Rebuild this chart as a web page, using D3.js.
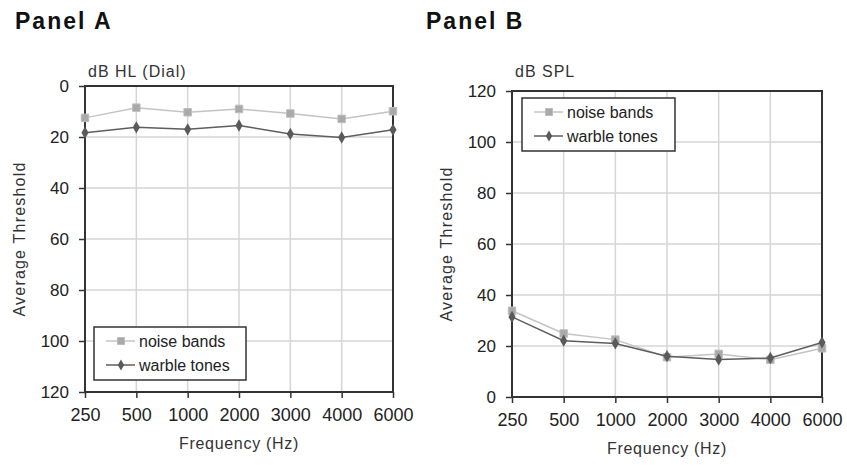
<!DOCTYPE html>
<html>
<head>
<meta charset="utf-8">
<script src="https://cdn.jsdelivr.net/npm/d3@7"></script>
<style>
  body { margin: 0; background: #fff; }
  svg { font-family: "Liberation Sans", Arial, sans-serif; }
</style>
</head>
<body>
<script>
const width = 847;
const height = 466;

const frequencies = ['250', '500', '1000', '2000', '3000', '4000', '6000'];
const seriesNames = ['noise bands', 'warble tones'];

// Panel A, dB HL (Dial)
const noiseA = [12.5, 8.5, 10.3, 9.0, 10.8, 12.9, 9.9];
const warbleA = [18.3, 16.2, 17.0, 15.5, 18.8, 20.2, 17.2];
// Panel B, dB SPL
const noiseB = [33.8, 24.9, 22.5, 15.6, 16.9, 14.6, 19.1];
const warbleB = [31.4, 22.1, 21.0, 16.0, 14.7, 15.3, 21.4];

const yTicks = [0, 20, 40, 60, 80, 100, 120];

const svg = d3.select('body')
    .append('svg')
    .attr('width', width)
    .attr('height', height);

function drawPanel(opt) {
    const x = d3.scalePoint()
        .domain(frequencies)
        .range([opt.left, opt.right]);

    const y = d3.scaleLinear()
        .domain(opt.inverted ? [0, 120] : [120, 0])
        .range([opt.top, opt.bottom]);

    const g = svg.append('g');

    // panel title
    g.append('text')
        .attr('x', opt.titleX)
        .attr('y', 29)
        .attr('font-size', 23)
        .attr('font-weight', 'bold')
        .attr('letter-spacing', 2)
        .attr('fill', '#111')
        .text(opt.title);

    // unit label
    g.append('text')
        .attr('x', opt.left + 3)
        .attr('y', 77)
        .attr('font-size', 16)
        .attr('letter-spacing', 1)
        .attr('fill', '#333')
        .text(opt.unit);

    // grid
    g.append('g')
        .selectAll('line')
        .data(yTicks)
        .join('line')
        .attr('x1', opt.left)
        .attr('x2', opt.right)
        .attr('y1', d => y(d))
        .attr('y2', d => y(d))
        .attr('stroke', '#d6d6d6')
        .attr('stroke-width', 1.5);

    g.append('g')
        .selectAll('line')
        .data(frequencies)
        .join('line')
        .attr('x1', d => x(d))
        .attr('x2', d => x(d))
        .attr('y1', opt.top)
        .attr('y2', opt.bottom)
        .attr('stroke', '#d6d6d6')
        .attr('stroke-width', 1.5);

    // axes
    const yAxis = g.append('g')
        .attr('transform', `translate(${opt.left},0)`)
        .call(d3.axisLeft(y).tickValues(yTicks).tickSize(6).tickPadding(10));

    const xAxis = g.append('g')
        .attr('transform', `translate(0,${opt.bottom})`)
        .call(d3.axisBottom(x).tickSize(6).tickPadding(10));

    [yAxis, xAxis].forEach(a => {
        a.select('.domain').remove();
        a.selectAll('line').attr('stroke', '#333').attr('stroke-width', 1.5);
        a.selectAll('text')
            .attr('font-size', 17)
            .attr('fill', '#222')
            .attr('font-family', '"Liberation Sans", Arial, sans-serif');
    });
    xAxis.selectAll('text').attr('font-size', 18);

    // frame
    g.append('rect')
        .attr('x', opt.left)
        .attr('y', opt.top)
        .attr('width', opt.right - opt.left)
        .attr('height', opt.bottom - opt.top)
        .attr('fill', 'none')
        .attr('stroke', '#333')
        .attr('stroke-width', 2);

    // axis titles
    g.append('text')
        .attr('transform', `translate(${opt.yLabelX},${(opt.top + opt.bottom) / 2}) rotate(-90)`)
        .attr('text-anchor', 'middle')
        .attr('font-size', 16)
        .attr('letter-spacing', 1.2)
        .attr('fill', '#333')
        .text('Average Threshold');

    g.append('text')
        .attr('x', (opt.left + opt.right) / 2)
        .attr('y', opt.bottom + 57)
        .attr('text-anchor', 'middle')
        .attr('font-size', 16)
        .attr('letter-spacing', 0.7)
        .attr('fill', '#333')
        .text('Frequency (Hz)');

    // series
    const line = d3.line()
        .x((d, i) => x(frequencies[i]))
        .y(d => y(d));

    const series = [
        { name: seriesNames[0], values: opt.noise, stroke: '#c4c4c4', fill: '#a9a9a9', shape: d3.symbolSquare },
        { name: seriesNames[1], values: opt.warble, stroke: '#5e5e5e', fill: '#5a5a5a', shape: d3.symbolDiamond }
    ];

    series.forEach(s => {
        g.append('path')
            .datum(s.values)
            .attr('d', line)
            .attr('fill', 'none')
            .attr('stroke', s.stroke)
            .attr('stroke-width', 1.5);

        g.append('g')
            .selectAll('path')
            .data(s.values)
            .join('path')
            .attr('transform', (d, i) => `translate(${x(frequencies[i])},${y(d)})`)
            .attr('d', d3.symbol().type(s.shape).size(s.shape === d3.symbolSquare ? 56 : 44))
            .attr('fill', s.fill)
            .attr('stroke', s.shape === d3.symbolSquare ? '#bdbdbd' : 'none')
            .attr('stroke-width', 1);
    });

    // legend
    const leg = g.append('g')
        .attr('transform', `translate(${opt.legX},${opt.legY})`);

    leg.append('rect')
        .attr('width', opt.legW)
        .attr('height', 53)
        .attr('fill', '#fff')
        .attr('stroke', '#333')
        .attr('stroke-width', 1.5);

    series.forEach((s, i) => {
        const row = leg.append('g')
            .attr('transform', `translate(0,${14 + i * 24})`);
        row.append('line')
            .attr('x1', 12)
            .attr('x2', 41)
            .attr('stroke', s.stroke)
            .attr('stroke-width', 1.5);
        row.append('path')
            .attr('transform', 'translate(27,0)')
            .attr('d', d3.symbol().type(s.shape).size(s.shape === d3.symbolSquare ? 49 : 36))
            .attr('fill', s.fill)
            .attr('stroke', s.shape === d3.symbolSquare ? '#bdbdbd' : 'none');
        row.append('text')
            .attr('x', 45)
            .attr('dy', '0.35em')
            .attr('font-size', 16)
            .attr('fill', '#222')
            .text(s.name);
    });
}

drawPanel({
    title: 'Panel A', titleX: 15, unit: 'dB HL (Dial)',
    left: 85, right: 393, top: 86, bottom: 392, inverted: true,
    noise: noiseA, warble: warbleA,
    yLabelX: 25, legX: 94, legY: 327, legW: 152
});

drawPanel({
    title: 'Panel B', titleX: 426, unit: 'dB SPL',
    left: 512, right: 822, top: 91, bottom: 397, inverted: false,
    noise: noiseB, warble: warbleB,
    yLabelX: 452, legX: 522, legY: 98, legW: 153
});
</script>
</body>
</html>
